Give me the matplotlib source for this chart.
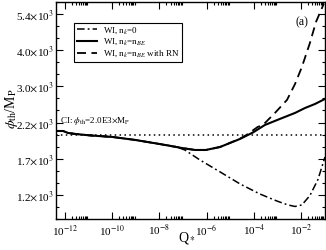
import numpy as np
import matplotlib
matplotlib.use("Agg")
import matplotlib.pyplot as plt
from matplotlib.ticker import FixedLocator, NullFormatter

plt.rcParams['font.family'] = ['Liberation Serif', 'DejaVu Serif']
plt.rcParams['mathtext.fontset'] = 'stix'

# ---- data ----
q_solid = [-12.38, -12.08, -11.87, -11.58, -10.94, -10.0, -9.03, -8.0, -7.04, -6.49,
           -6.03, -5.43, -4.58, -4.03, -3.53, -2.89, -2.25, -1.83, -1.41, -0.98]
phi_solid = [2059, 2059, 2026, 2010, 1985, 1960, 1912, 1849, 1788, 1759,
             1759, 1803, 1928, 2035, 2164, 2276, 2392, 2491, 2575, 2686]

q_rn = [-12.38, -12.08, -11.87, -11.58, -10.94, -10.0, -9.03, -8.0, -7.04, -6.49,
        -6.03, -5.43, -4.58, -4.30, -3.83, -3.61, -3.10, -2.59, -2.25, -1.96,
        -1.62, -1.36, -1.19, -1.03]
phi_rn = [2059, 2059, 2026, 2010, 1985, 1960, 1912, 1849, 1788, 1759,
          1759, 1803, 1932, 1995, 2130, 2164, 2392, 2665, 3041, 3501,
          4272, 5094, 5500, 5920]

q_zero = [-12.38, -12.08, -11.87, -11.58, -10.94, -10.0, -9.03, -8.0, -7.34, -6.92,
          -6.28, -5.43, -4.58, -3.74, -3.02, -2.55, -2.25, -1.96, -1.62, -1.28, -0.98]
phi_zero = [2059, 2059, 2026, 2010, 1985, 1960, 1912, 1849, 1812, 1759,
            1619, 1467, 1327, 1221, 1152, 1115, 1101, 1115, 1205, 1376, 1660]

phi_ci = 2000

ytick_ln = [7.1, 7.4, 7.7, 8.0, 8.3, 8.6]
ytick_labels = [r'1.2$\times$10$^3$', r'1.7$\times$10$^3$', r'2.2$\times$10$^3$',
                r'3.0$\times$10$^3$', r'4.0$\times$10$^3$', r'5.4$\times$10$^3$']
xtick_exp = [-12, -10, -8, -6, -4, -2]

fig = plt.figure(figsize=(3.26, 2.5), dpi=100)
ax = fig.add_axes([56/326, 1-219/250, (325-56)/326, (219-2)/250])

ax.plot(10.0**np.array(q_zero), phi_zero, color='black', lw=1.1,
        linestyle=(0, (5, 2, 1.2, 2)), label=r'WI, n$_k$=0')
ax.plot(10.0**np.array(q_solid), phi_solid, color='black', lw=1.5,
        linestyle='-', label=r'WI, n$_k$=n$_{BE}$')
ax.plot(10.0**np.array(q_rn), phi_rn, color='black', lw=1.3,
        linestyle=(0, (5, 3)), label=r'WI, n$_k$=n$_{BE}$ with RN')
ax.axhline(phi_ci, color='black', lw=1.1, linestyle=(0, (1, 2.2)))

ax.set_xscale('log')
ax.set_yscale('log')
ax.set_xlim(10**-12.38, 10**-0.98)
ax.set_ylim(np.exp(6.9), np.exp(8.7))

ax.yaxis.set_major_locator(FixedLocator(np.exp(ytick_ln)))
ax.set_yticklabels(ytick_labels)
yminor = [np.exp(6.9 + 0.1*i) for i in range(19)]
ax.yaxis.set_minor_locator(FixedLocator(yminor))
ax.yaxis.set_minor_formatter(NullFormatter())

ax.xaxis.set_major_locator(FixedLocator([10.0**e for e in xtick_exp]))
ax.set_xticklabels([r'10$^{%d}$' % e for e in xtick_exp])
xminor = [k*10.0**e for e in range(-14, 0, 2) for k in range(2, 10)]
ax.xaxis.set_minor_locator(FixedLocator(xminor))
ax.xaxis.set_minor_formatter(NullFormatter())

ax.tick_params(which='both', direction='in', top=True, right=True, labelsize=8,
               width=0.8, colors='black')
ax.tick_params(which='major', length=5)
ax.tick_params(which='minor', length=2.5)
ax.tick_params(axis='x', pad=3)
ax.tick_params(axis='y', pad=2)
for s in ax.spines.values():
    s.set_linewidth(1.0)

ax.set_ylabel(r'$\phi_{\rm th}$/M$_{\rm P}$', fontsize=10)
ax.yaxis.set_label_coords(-0.165, 0.51)
ax.yaxis.label.set_va('center')
ax.set_xlabel(r'Q$_*$', fontsize=10)
ax.xaxis.set_label_coords(0.487, -0.088)
ax.xaxis.label.set_va('center')

ax.text(0.015, 0.425, r'CI: $\phi_{\rm th}$=2.0E3$\times$M$_{\rm P}$',
        transform=ax.transAxes, fontsize=6.5, ha='left', va='bottom')
ax.text(0.915, 0.905, '(a)', transform=ax.transAxes, fontsize=8.5,
        ha='center', va='center')

leg = ax.legend(loc='upper left', bbox_to_anchor=(0.067, 0.905), fontsize=6.5,
                frameon=True, fancybox=False, framealpha=1, edgecolor='black',
                handlelength=2.3, handletextpad=0.6, borderpad=0.3,
                labelspacing=0.15, borderaxespad=0)
leg.get_frame().set_linewidth(0.8)

fig.savefig('out.png', dpi=100)
